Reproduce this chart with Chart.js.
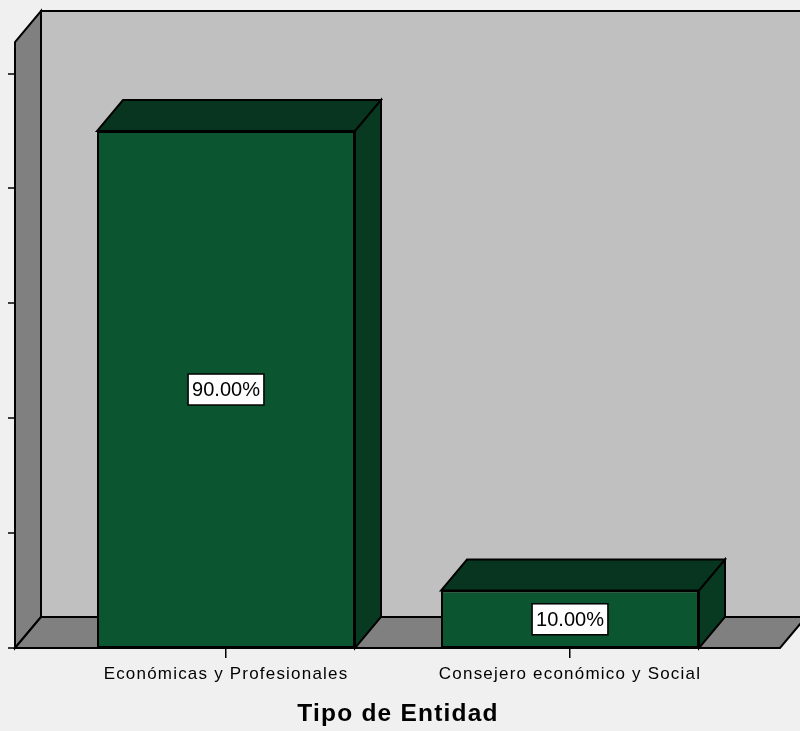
<!DOCTYPE html>
<html>
<head>
<meta charset="utf-8">
<script src="https://cdn.jsdelivr.net/npm/chart.js@4.4.1/dist/chart.umd.min.js"></script>
<style>
  html, body { margin: 0; padding: 0; background: #f0f0f0; }
  #wrap { width: 800px; height: 731px; }
</style>
</head>
<body>
<div id="wrap"><canvas id="grafico"></canvas></div>
<script>
// categorias y porcentajes
const categorias = ['Económicas y Profesionales', 'Consejero económico y Social'];
const porcentajes = [90, 10];
const marcasY = [0, 20, 40, 60, 80, 100];
const tituloX = 'Tipo de Entidad';

const FUENTE = 'Arial, "Liberation Sans", sans-serif';
const PROF_X = 26;   // desplazamiento de la profundidad
const PROF_Y = 31;

// paredes, piso y marcas del eje vertical
const caja3d = {
    id: 'caja3d',
    beforeDraw: (chart) => {
        const { ctx, width, height } = chart;
        ctx.save();
        ctx.fillStyle = '#f0f0f0';
        ctx.fillRect(0, 0, width, height);
        ctx.restore();
        ctx.letterSpacing = '1.2px';
    },
    beforeDatasetsDraw: (chart) => {
        const { ctx, chartArea } = chart;
        const y = chart.scales.y;
        const izq = chartArea.left - 39;
        const der = chartArea.right + 38;
        const arriba = chartArea.top;
        const base = y.getPixelForValue(0);

        ctx.save();
        ctx.lineWidth = 2;
        ctx.strokeStyle = '#000';
        ctx.lineJoin = 'miter';

        // pared del fondo
        ctx.fillStyle = '#c0c0c0';
        ctx.fillRect(izq + PROF_X, arriba - PROF_Y, der - izq + 40, base - arriba);
        ctx.beginPath();
        ctx.moveTo(izq + PROF_X, base - PROF_Y);
        ctx.lineTo(izq + PROF_X, arriba - PROF_Y);
        ctx.lineTo(der + PROF_X + 40, arriba - PROF_Y);
        ctx.stroke();

        // pared izquierda
        ctx.fillStyle = '#808080';
        ctx.beginPath();
        ctx.moveTo(izq, base);
        ctx.lineTo(izq, arriba);
        ctx.lineTo(izq + PROF_X, arriba - PROF_Y);
        ctx.lineTo(izq + PROF_X, base - PROF_Y);
        ctx.closePath();
        ctx.fill();
        ctx.stroke();

        // piso
        ctx.beginPath();
        ctx.moveTo(izq, base);
        ctx.lineTo(izq + PROF_X, base - PROF_Y);
        ctx.lineTo(der + PROF_X, base - PROF_Y);
        ctx.lineTo(der, base);
        ctx.closePath();
        ctx.fill();
        ctx.stroke();

        // marcas del eje Y
        ctx.lineWidth = 1.5;
        marcasY.forEach(v => {
            const py = Math.round(y.getPixelForValue(v));
            ctx.beginPath();
            ctx.moveTo(izq - 7, py);
            ctx.lineTo(izq, py);
            ctx.stroke();
        });
        ctx.restore();
    },
    afterDatasetsDraw: (chart) => {
        const { ctx } = chart;
        const meta = chart.getDatasetMeta(0);
        ctx.save();
        ctx.lineWidth = 2;
        ctx.strokeStyle = '#000';
        ctx.lineJoin = 'miter';
        meta.data.forEach((bar, i) => {
            const { x, y, base, width } = bar.getProps(['x', 'y', 'base', 'width'], true);
            const l = x - width / 2;
            const r = x + width / 2;

            // cara superior
            ctx.fillStyle = '#08351f';
            ctx.beginPath();
            ctx.moveTo(l, y);
            ctx.lineTo(l + PROF_X, y - PROF_Y);
            ctx.lineTo(r + PROF_X, y - PROF_Y);
            ctx.lineTo(r, y);
            ctx.closePath();
            ctx.fill();
            ctx.stroke();

            // cara lateral
            ctx.fillStyle = '#073a21';
            ctx.beginPath();
            ctx.moveTo(r, y);
            ctx.lineTo(r + PROF_X, y - PROF_Y);
            ctx.lineTo(r + PROF_X, base - PROF_Y);
            ctx.lineTo(r, base);
            ctx.closePath();
            ctx.fill();
            ctx.stroke();

            // etiqueta con el porcentaje
            const texto = porcentajes[i].toFixed(2) + '%';
            ctx.letterSpacing = '0px';
            ctx.font = '20px ' + FUENTE;
            const ancho = ctx.measureText(texto).width + 8;
            const alto = 31;
            const cy = (y + base) / 2;
            ctx.fillStyle = '#fff';
            ctx.fillRect(x - ancho / 2, cy - alto / 2, ancho, alto);
            ctx.lineWidth = 1.5;
            ctx.strokeRect(x - ancho / 2, cy - alto / 2, ancho, alto);
            ctx.lineWidth = 2;
            ctx.fillStyle = '#000';
            ctx.textAlign = 'center';
            ctx.textBaseline = 'middle';
            ctx.fillText(texto, x, cy + 1);
        });
        ctx.restore();
    }
};

const ctx = document.getElementById('grafico').getContext('2d');
const grafico = new Chart(ctx, {
    type: 'bar',
    data: {
        labels: categorias,
        datasets: [{
            label: 'Porcentaje',
            data: porcentajes,
            backgroundColor: '#0b5630',
            borderColor: '#000',
            borderWidth: 2,
            borderSkipped: false,
            barPercentage: 0.75,
            categoryPercentage: 1
        }]
    },
    options: {
        responsive: true,
        maintainAspectRatio: false,
        animation: false,
        layout: {
            padding: { left: 54, right: 58, top: 42, bottom: 0 }
        },
        plugins: {
            legend: { display: false },
            tooltip: { enabled: false }
        },
        scales: {
            y: {
                display: false,
                min: 0,
                max: 105.5
            },
            x: {
                afterFit: (scale) => { scale.height = 83; },
                border: { display: false },
                grid: {
                    drawOnChartArea: false,
                    offset: false,
                    tickLength: 10,
                    color: '#000',
                    lineWidth: 1.5
                },
                ticks: {
                    color: '#000',
                    padding: 6,
                    font: { family: FUENTE, size: 17 }
                },
                title: {
                    display: true,
                    text: tituloX,
                    color: '#000',
                    padding: { top: 4, bottom: 2 },
                    font: { family: FUENTE, size: 24.5, weight: 'bold' }
                }
            }
        }
    },
    plugins: [caja3d]
});
</script>
</body>
</html>
